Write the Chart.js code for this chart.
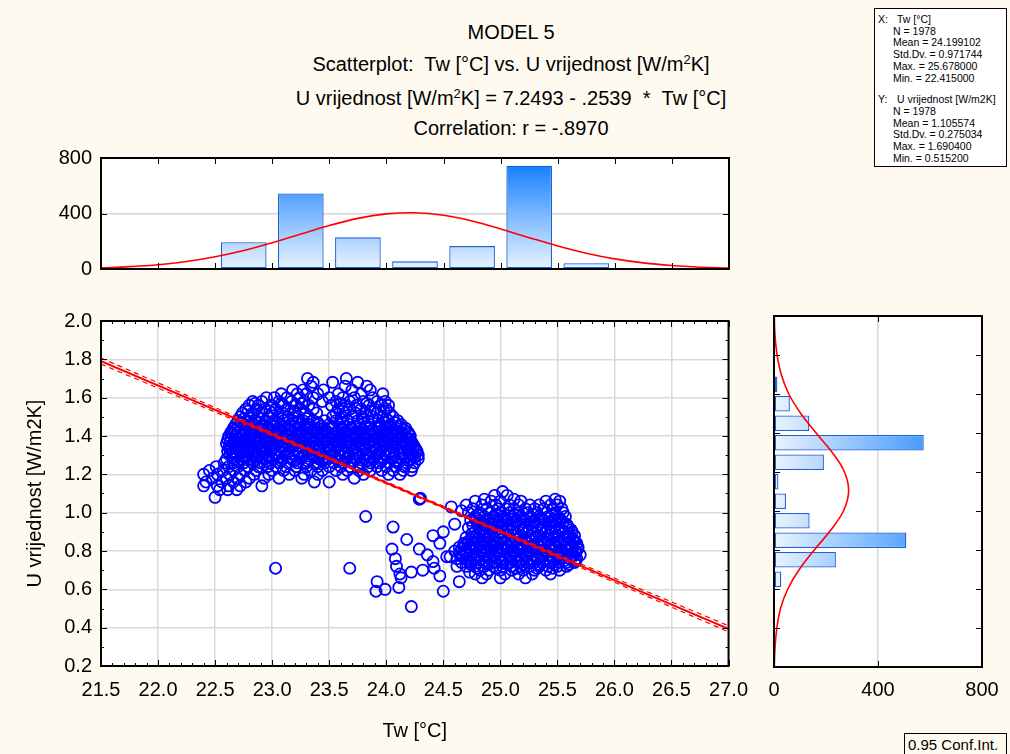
<!DOCTYPE html>
<html>
<head>
<meta charset="utf-8">
<script src="https://cdn.jsdelivr.net/npm/chart.js@4.4.1/dist/chart.umd.min.js"></script>
<style>
  html, body { margin: 0; padding: 0; }
  body {
    width: 1010px; height: 754px; position: relative; overflow: hidden;
    background: #FEFAF0; color: #000;
    font-family: "Liberation Sans", Arial, sans-serif;
  }
  canvas { position: absolute; }
  .t { position: absolute; left: 211px; width: 600px; text-align: center; font-size: 20px; line-height: 24px; white-space: nowrap; }
  sup { font-size: 13px; line-height: 0; vertical-align: 7px; }
  .stats {
    position: absolute; left: 874px; top: 8px; width: 133px; height: 159px;
    box-sizing: border-box; border: 1px solid #000; background: #fff;
    font-size: 10.5px; line-height: 11.7px; padding-top: 5px; white-space: nowrap;
  }
  .stats .k { display: inline-block; width: 19px; padding-left: 3px; }
  .stats .in { padding-left: 18px; }
  .stats .gap { margin-top: 10px; }
  .ci {
    position: absolute; left: 904px; top: 733px; width: 103px; height: 23px;
    box-sizing: border-box; border: 1px solid #000; font-size: 15px; line-height: 21px; padding-left: 3px;
  }
</style>
</head>
<body>
<div class="t" style="top:20px">MODEL 5</div>
<div class="t" style="top:52px">Scatterplot:&nbsp; Tw [°C] vs. U vrijednost [W/m<sup>2</sup>K]</div>
<div class="t" style="top:86px">U vrijednost [W/m<sup>2</sup>K] = 7.2493 - .2539 &nbsp;* &nbsp;Tw [°C]</div>
<div class="t" style="top:116px">Correlation: r = -.8970</div>

<div class="stats">
  <div><span class="k">X:</span>Tw [°C]</div>
  <div class="in">N = 1978</div>
  <div class="in">Mean = 24.199102</div>
  <div class="in">Std.Dv. = 0.971744</div>
  <div class="in">Max. = 25.678000</div>
  <div class="in">Min. = 22.415000</div>
  <div class="gap"><span class="k">Y:</span>U vrijednost [W/m2K]</div>
  <div class="in">N = 1978</div>
  <div class="in">Mean = 1.105574</div>
  <div class="in">Std.Dv. = 0.275034</div>
  <div class="in">Max. = 1.690400</div>
  <div class="in">Min. = 0.515200</div>
</div>
<div class="ci">0.95 Conf.Int.</div>

<canvas id="topHist" width="760" height="160" style="left:0;top:130px"></canvas>
<canvas id="scatter" width="760" height="454" style="left:0;top:300px"></canvas>
<canvas id="sideHist" width="265" height="454" style="left:745px;top:300px"></canvas>

<script>
// histogram of Tw (top)
const twBins = [22.75, 23.25, 23.75, 24.25, 24.75, 25.25, 25.75];
const twCounts = [193, 545, 228, 55, 165, 745, 41];
// fitted normal curve over the Tw histogram
const twCurveX = [21.5, 21.75, 22.0, 22.25, 22.5, 22.75, 23.0, 23.25, 23.5, 23.75, 24.0, 24.25,
                  24.5, 24.75, 25.0, 25.25, 25.5, 25.75, 26.0, 26.25, 26.5, 26.75, 27.0];
const twCurveN = [8, 17, 31, 54, 88, 133, 189, 252, 313, 365, 397, 405,
                  387, 346, 289, 226, 166, 114, 73, 44, 25, 13, 6];

// histogram of U (right)
const uBins = [1.65, 1.55, 1.45, 1.35, 1.25, 1.15, 1.05, 0.95, 0.85, 0.75, 0.65, 0.55];
const uCounts = [13, 61, 136, 576, 192, 17, 46, 137, 509, 238, 28, 2];
const uCurveY = [0.2, 0.3, 0.4, 0.5, 0.6, 0.7, 0.8, 0.9, 1.0, 1.1, 1.2, 1.3, 1.4, 1.5, 1.6, 1.7, 1.8, 1.9, 2.0];
const uCurveN = [1, 4, 11, 25, 53, 97, 155, 217, 267, 287, 271, 224, 162, 103, 57, 28, 12, 4, 1];

// regression line and 0.95 confidence band
const fitTw = [21.5, 27.0];
const fitU = [1.7905, 0.3940];
const ciTw = [21.5, 22.5, 23.5, 24.2, 25.0, 26.0, 27.0];
const ciUpper = [1.807, 1.548, 1.290, 1.110, 0.909, 0.659, 0.410];
const ciLower = [1.775, 1.525, 1.276, 1.100, 0.895, 0.637, 0.378];

const cluster1 = [
  [1.70, [23.31, 23.65]],
  [1.68, [23.36, 23.53, 23.75]],
  [1.66, [23.34, 23.64, 23.83]],
  [1.64, [23.18, 23.27, 23.45, 23.70, 23.86]],
  [1.62, [23.08, 23.22, 23.30, 23.40, 23.58, 23.78, 23.97]],
  [1.60, [22.95, 23.02, 23.13, 23.24, 23.36, 23.50, 23.62, 23.72, 23.88]],
  [1.58, [22.83, 22.91, 23.06, 23.17, 23.28, 23.44, 23.56, 23.68, 23.80, 23.92, 23.99]],
  [1.57, [22.85, 23.08, 23.26, 23.60, 23.83]],
  [1.56, [22.80, 22.88, 22.99, 23.10, 23.21, 23.32, 23.52, 23.63, 23.74, 23.85, 23.96, 24.02]],
  [1.54, [22.77, 22.86, 22.94, 23.03, 23.14, 23.25, 23.36, 23.58, 23.68, 23.78, 23.90, 24.00]],
  [1.53, [22.79, 22.98, 23.20, 23.62, 23.86, 23.98]],
  [1.52, [22.74, 22.83, 22.91, 23.00, 23.09, 23.19, 23.29, 23.39, 23.56, 23.64, 23.73, 23.82, 23.92, 24.03]],
  [1.50, [22.72, 22.80, 22.88, 22.97, 23.05, 23.14, 23.23, 23.32, 23.53, 23.61, 23.70, 23.79, 23.88, 23.97, 24.06]],
  [1.49, [22.75, 22.91, 23.09, 23.30, 23.60, 23.80, 24.00]],
  [1.48, [22.70, 22.78, 22.86, 22.94, 23.02, 23.10, 23.18, 23.27, 23.36, 23.46, 23.56, 23.66, 23.75, 23.84, 23.93, 24.02, 24.10]],
  [1.47, [22.73, 22.89, 23.05, 23.21, 23.40, 23.62, 23.81, 23.99, 24.08]],
  [1.46, [22.68, 22.76, 22.84, 22.92, 23.00, 23.08, 23.16, 23.24, 23.32, 23.41, 23.50, 23.59, 23.68, 23.77, 23.86, 23.95, 24.04, 24.13]],
  [1.45, [22.70, 22.79, 22.90, 23.01, 23.11, 23.20, 23.31, 23.43, 23.52, 23.63, 23.72, 23.83, 23.94, 24.03, 24.12]],
  [1.44, [22.66, 22.73, 22.81, 22.89, 22.97, 23.05, 23.13, 23.21, 23.29, 23.37, 23.45, 23.53, 23.61, 23.69, 23.77, 23.85, 23.93, 24.01, 24.09, 24.17]],
  [1.43, [22.67, 22.76, 22.86, 22.95, 23.06, 23.16, 23.26, 23.35, 23.47, 23.58, 23.67, 23.79, 23.88, 23.99, 24.08, 24.16]],
  [1.42, [22.64, 22.70, 22.77, 22.85, 22.93, 23.01, 23.09, 23.17, 23.25, 23.33, 23.41, 23.49, 23.57, 23.65, 23.73, 23.81, 23.89, 23.97, 24.05, 24.13, 24.19]],
  [1.41, [22.65, 22.73, 22.83, 22.92, 23.03, 23.12, 23.23, 23.31, 23.43, 23.54, 23.63, 23.74, 23.84, 23.95, 24.04, 24.14, 24.20]],
  [1.40, [22.62, 22.68, 22.74, 22.81, 22.89, 22.97, 23.05, 23.13, 23.21, 23.29, 23.37, 23.45, 23.53, 23.61, 23.69, 23.77, 23.85, 23.93, 24.01, 24.09, 24.17, 24.21]],
  [1.39, [22.64, 22.71, 22.80, 22.90, 22.99, 23.10, 23.19, 23.29, 23.39, 23.50, 23.59, 23.70, 23.80, 23.91, 24.00, 24.10, 24.19]],
  [1.38, [22.61, 22.67, 22.72, 22.78, 22.85, 22.93, 23.01, 23.09, 23.17, 23.25, 23.33, 23.41, 23.49, 23.57, 23.65, 23.73, 23.81, 23.89, 23.97, 24.05, 24.13, 24.21]],
  [1.37, [22.63, 22.69, 22.79, 22.88, 22.98, 23.07, 23.17, 23.27, 23.36, 23.47, 23.56, 23.67, 23.76, 23.87, 23.97, 24.07, 24.16, 24.22]],
  [1.36, [22.60, 22.66, 22.71, 22.76, 22.82, 22.89, 22.97, 23.05, 23.13, 23.21, 23.29, 23.37, 23.45, 23.53, 23.61, 23.69, 23.77, 23.85, 23.93, 24.01, 24.09, 24.17, 24.23]],
  [1.35, [22.64, 22.71, 22.80, 22.90, 22.99, 23.09, 23.19, 23.29, 23.39, 23.49, 23.59, 23.69, 23.79, 23.89, 23.99, 24.08, 24.18, 24.24]],
  [1.34, [22.62, 22.68, 22.74, 22.80, 22.86, 22.93, 23.01, 23.09, 23.17, 23.25, 23.33, 23.41, 23.49, 23.57, 23.65, 23.73, 23.81, 23.89, 23.97, 24.05, 24.13, 24.21, 24.25]],
  [1.33, [22.63, 22.70, 22.81, 22.89, 23.00, 23.11, 23.21, 23.30, 23.41, 23.51, 23.61, 23.70, 23.81, 23.91, 24.01, 24.10, 24.20, 24.26]],
  [1.32, [22.61, 22.66, 22.72, 22.78, 22.85, 22.92, 22.99, 23.07, 23.15, 23.23, 23.31, 23.39, 23.47, 23.55, 23.63, 23.71, 23.79, 23.87, 23.95, 24.03, 24.11, 24.19, 24.27]],
  [1.31, [22.65, 22.73, 22.83, 22.93, 23.03, 23.13, 23.23, 23.33, 23.43, 23.53, 23.63, 23.73, 23.83, 23.93, 24.03, 24.12, 24.22]],
  [1.30, [22.63, 22.69, 22.75, 22.82, 22.89, 22.96, 23.03, 23.11, 23.19, 23.27, 23.35, 23.43, 23.51, 23.59, 23.67, 23.75, 23.83, 23.91, 23.99, 24.07, 24.15, 24.23, 24.28]],
  [1.29, [22.66, 22.77, 22.86, 22.97, 23.06, 23.15, 23.26, 23.37, 23.46, 23.55, 23.66, 23.76, 23.86, 23.95, 24.06, 24.16, 24.25]],
  [1.28, [22.60, 22.67, 22.73, 22.80, 22.87, 22.94, 23.01, 23.09, 23.17, 23.25, 23.33, 23.41, 23.49, 23.57, 23.65, 23.73, 23.81, 23.89, 23.97, 24.05, 24.13, 24.21, 24.28]],
  [1.27, [22.70, 22.84, 22.95, 23.08, 23.19, 23.31, 23.44, 23.58, 23.71, 23.83, 23.96, 24.08, 24.20]],
  [1.26, [22.58, 22.66, 22.75, 22.83, 22.90, 22.98, 23.06, 23.14, 23.22, 23.30, 23.38, 23.46, 23.54, 23.62, 23.70, 23.78, 23.86, 23.94, 24.02, 24.10, 24.18, 24.25]],
  [1.24, [22.51, 22.62, 22.70, 22.79, 22.88, 22.96, 23.04, 23.12, 23.21, 23.30, 23.40, 23.50, 23.60, 23.68, 23.76, 23.84, 23.92, 24.00, 24.08, 24.16, 24.23]],
  [1.22, [22.45, 22.57, 22.66, 22.76, 22.86, 23.00, 23.10, 23.20, 23.34, 23.44, 23.56, 23.66, 23.76, 23.86, 23.96, 24.06, 24.15, 24.22]],
  [1.20, [22.40, 22.52, 22.63, 22.72, 22.84, 22.97, 23.15, 23.28, 23.40, 23.62, 23.80, 24.02, 24.12]],
  [1.18, [22.48, 22.60, 22.70, 22.80, 22.93, 23.06, 23.26, 23.72]],
  [1.16, [22.42, 22.56, 22.66, 22.77, 23.37, 23.50]],
  [1.14, [22.40, 22.52, 22.62, 22.72, 22.91]],
  [1.12, [22.54, 22.61, 22.69]],
  [1.08, [22.50]]
];

const cluster2 = [
  [1.11, [25.02]],
  [1.09, [24.95, 25.06]],
  [1.07, [24.86, 25.12, 25.48]],
  [1.06, [24.78, 24.92, 25.00, 25.18, 25.40, 25.52]],
  [1.04, [24.70, 24.84, 24.96, 25.08, 25.16, 25.26, 25.34, 25.44, 25.50]],
  [1.02, [24.76, 24.88, 24.98, 25.05, 25.12, 25.22, 25.30, 25.38, 25.46, 25.54]],
  [1.00, [24.72, 24.82, 24.92, 25.00, 25.08, 25.16, 25.24, 25.32, 25.40, 25.48, 25.55]],
  [0.99, [24.81, 24.97, 25.13, 25.29, 25.45]],
  [0.98, [24.78, 24.86, 24.94, 25.02, 25.10, 25.18, 25.26, 25.34, 25.42, 25.50, 25.57]],
  [0.97, [24.78, 24.90, 25.04, 25.20, 25.36, 25.52]],
  [0.96, [24.74, 24.82, 24.90, 24.98, 25.06, 25.14, 25.22, 25.30, 25.38, 25.46, 25.53]],
  [0.95, [24.84, 24.98, 25.14, 25.30, 25.46, 25.55]],
  [0.94, [24.80, 24.87, 24.94, 25.02, 25.10, 25.18, 25.26, 25.34, 25.42, 25.50, 25.58]],
  [0.93, [24.76, 24.88, 25.01, 25.16, 25.32, 25.48, 25.59]],
  [0.92, [24.72, 24.84, 24.91, 24.98, 25.05, 25.12, 25.20, 25.28, 25.36, 25.44, 25.52, 25.60]],
  [0.91, [24.82, 24.92, 25.06, 25.20, 25.36, 25.52, 25.62]],
  [0.90, [24.78, 24.88, 24.95, 25.02, 25.09, 25.16, 25.24, 25.32, 25.40, 25.48, 25.56, 25.63]],
  [0.89, [24.75, 24.86, 24.99, 25.13, 25.29, 25.45, 25.60]],
  [0.88, [24.82, 24.90, 24.97, 25.04, 25.11, 25.18, 25.26, 25.34, 25.42, 25.50, 25.58, 25.65]],
  [0.87, [24.78, 24.90, 25.03, 25.17, 25.31, 25.47, 25.61]],
  [0.86, [24.74, 24.80, 24.86, 24.93, 25.00, 25.07, 25.14, 25.21, 25.28, 25.35, 25.42, 25.49, 25.56, 25.64]],
  [0.85, [24.72, 24.85, 24.96, 25.09, 25.23, 25.37, 25.51, 25.65]],
  [0.84, [24.68, 24.76, 24.83, 24.90, 24.97, 25.04, 25.11, 25.18, 25.25, 25.32, 25.39, 25.46, 25.53, 25.60, 25.67]],
  [0.83, [24.69, 24.82, 24.94, 25.07, 25.20, 25.34, 25.48, 25.62]],
  [0.82, [24.64, 24.72, 24.79, 24.86, 24.93, 25.00, 25.07, 25.14, 25.21, 25.28, 25.35, 25.42, 25.49, 25.56, 25.63, 25.68]],
  [0.81, [24.66, 24.79, 24.91, 25.05, 25.18, 25.32, 25.46, 25.60, 25.68]],
  [0.80, [24.60, 24.68, 24.75, 24.82, 24.89, 24.96, 25.03, 25.10, 25.17, 25.24, 25.31, 25.38, 25.45, 25.52, 25.59, 25.66]],
  [0.79, [24.70, 24.84, 24.97, 25.12, 25.26, 25.40, 25.54, 25.66]],
  [0.78, [24.66, 24.73, 24.80, 24.87, 24.94, 25.01, 25.08, 25.15, 25.22, 25.29, 25.36, 25.43, 25.50, 25.57, 25.64, 25.70]],
  [0.77, [24.67, 24.80, 24.94, 25.08, 25.22, 25.36, 25.50, 25.63]],
  [0.76, [24.62, 24.70, 24.77, 24.84, 24.91, 24.98, 25.05, 25.12, 25.19, 25.26, 25.33, 25.40, 25.47, 25.54, 25.61, 25.67]],
  [0.75, [24.72, 24.86, 25.00, 25.14, 25.28, 25.42, 25.56, 25.66]],
  [0.74, [24.66, 24.74, 24.81, 24.88, 24.95, 25.02, 25.09, 25.16, 25.23, 25.30, 25.37, 25.44, 25.51, 25.58, 25.65]],
  [0.73, [24.74, 24.90, 25.06, 25.20, 25.34, 25.48, 25.60]],
  [0.72, [24.70, 24.78, 24.86, 24.94, 25.02, 25.10, 25.18, 25.26, 25.34, 25.42, 25.50, 25.58]],
  [0.71, [24.80, 24.96, 25.14, 25.32, 25.46]],
  [0.70, [24.82, 24.90, 25.00, 25.10, 25.20, 25.30, 25.40, 25.52]],
  [0.68, [24.78, 24.88, 25.04, 25.16, 25.28, 25.44]],
  [0.66, [24.84, 25.00, 25.22]]
];

// scattered points between and around the two groups: [Tw, U]
const outliers = [
  [23.03, 0.71], [23.68, 0.71], [23.82, 0.98], [24.06, 0.925], [24.18, 0.86], [24.29, 0.81],
  [24.05, 0.81], [24.08, 0.76], [24.09, 0.72], [24.12, 0.68], [24.13, 0.66], [23.92, 0.64],
  [23.91, 0.59], [23.99, 0.60], [24.11, 0.61], [24.22, 0.69], [24.32, 0.70], [24.41, 0.745],
  [24.42, 0.71], [24.47, 0.67], [24.50, 0.59], [24.22, 0.51], [24.53, 0.77], [24.29, 1.07],
  [24.30, 1.075], [24.41, 0.88], [24.50, 0.90], [24.47, 0.84], [24.64, 0.64], [24.36, 0.78],
  [24.60, 0.94], [24.57, 1.03], [24.66, 1.01], [24.70, 0.87], [24.73, 0.81], [24.56, 0.77],
  [24.64, 0.79], [24.73, 0.69], [24.62, 0.72]
];

const FONT = '"Liberation Sans", Arial, sans-serif';
Chart.defaults.font.family = FONT;
Chart.defaults.font.size = 20;
Chart.defaults.color = '#000';
Chart.defaults.animation = false;

function rowsToPoints(rows) {
  const pts = [];
  rows.forEach(([u, tws]) => tws.forEach(tw => pts.push({ x: tw, y: u })));
  return pts;
}
const zip = (xs, ys) => xs.map((x, i) => ({ x: x, y: ys[i] }));

// white plot area, black frame and inward tick marks
const framePlugin = {
  id: 'frame',
  beforeDraw(chart) {
    const { ctx, chartArea: a } = chart;
    ctx.save();
    ctx.fillStyle = '#fff';
    ctx.fillRect(a.left, a.top, a.width, a.height);
    ctx.restore();
  },
  afterDraw(chart, args, opts) {
    const { ctx, chartArea: a } = chart;
    const xs = chart.scales.x, ys = chart.scales.y;
    ctx.save();
    ctx.strokeStyle = '#000';
    ctx.lineWidth = 1;
    const marks = (scale, step, len, horiz) => {
      if (!step) return;
      const n = Math.round((scale.max - scale.min) / step);
      for (let i = 0; i <= n; i++) {
        const p = Math.round(scale.getPixelForValue(scale.min + i * step)) + 0.5;
        ctx.beginPath();
        if (horiz) {
          ctx.moveTo(p, a.bottom); ctx.lineTo(p, a.bottom - len);
          ctx.moveTo(p, a.top); ctx.lineTo(p, a.top + len);
        } else {
          ctx.moveTo(a.left, p); ctx.lineTo(a.left + len, p);
          ctx.moveTo(a.right, p); ctx.lineTo(a.right - len, p);
        }
        ctx.stroke();
      }
    };
    marks(xs, opts.xMajor, 6, true);
    marks(xs, opts.xMinor, 3, true);
    marks(ys, opts.yMajor, 6, false);
    marks(ys, opts.yMinor, 3, false);
    ctx.lineWidth = 2;
    ctx.strokeRect(a.left, a.top, a.width, a.height);
    ctx.restore();
  }
};

function barGradient(vertical) {
  return (c) => {
    const a = c.chart.chartArea;
    if (!a) return '#9cc9ff';
    const g = vertical
      ? c.chart.ctx.createLinearGradient(0, a.bottom, 0, a.top)
      : c.chart.ctx.createLinearGradient(a.left, 0, a.right, 0);
    g.addColorStop(0, '#EAF4FF');
    g.addColorStop(1, '#0878FF');
    return g;
  };
}

const only400 = (c) => (c.tick && c.tick.value === 400 ? '#D6D6D6' : 'rgba(0,0,0,0)');
const noPlugins = { legend: { display: false }, tooltip: { enabled: false } };

// top histogram
new Chart(document.getElementById('topHist'), {
  type: 'bar',
  data: {
    datasets: [
      {
        type: 'line', data: zip(twCurveX, twCurveN), borderColor: '#FF0000', borderWidth: 1.6,
        pointRadius: 0, tension: 0.4, fill: false, order: 0
      },
      {
        data: zip(twBins, twCounts), backgroundColor: barGradient(true), borderColor: '#1F5FD6',
        borderWidth: 1.3, borderSkipped: false, barPercentage: 0.8, categoryPercentage: 1, order: 1
      }
    ]
  },
  options: {
    responsive: false,
    layout: { padding: { top: 28, right: 31, left: 0, bottom: 0 } },
    scales: {
      x: {
        type: 'linear', min: 21.5, max: 27, offset: false,
        ticks: { display: false, stepSize: 0.5 },
        grid: { display: false, offset: false }, border: { display: false },
        afterFit: s => { s.height = 16; }
      },
      y: {
        min: 0, max: 800,
        ticks: { stepSize: 400, padding: 9 },
        grid: { color: only400, lineWidth: 1.5, drawTicks: false }, border: { display: false },
        afterFit: s => { s.width = 101; }
      }
    },
    plugins: { ...noPlugins, frame: { xMajor: 0.5, yMajor: 400 } }
  },
  plugins: [framePlugin]
});

// main scatterplot
const pointStyle = {
  type: 'scatter', showLine: false, pointRadius: 5.6, pointBorderWidth: 1.8,
  pointBorderColor: '#0000FF', pointBackgroundColor: 'rgba(0,0,0,0)', order: 2
};
new Chart(document.getElementById('scatter'), {
  type: 'scatter',
  data: {
    datasets: [
      { type: 'line', data: zip(fitTw, fitU), borderColor: '#FF0000', borderWidth: 2, pointRadius: 0, order: 0 },
      { type: 'line', data: zip(ciTw, ciUpper), borderColor: '#FF0000', borderWidth: 1.2, borderDash: [5, 4], pointRadius: 0, order: 0 },
      { type: 'line', data: zip(ciTw, ciLower), borderColor: '#FF0000', borderWidth: 1.2, borderDash: [5, 4], pointRadius: 0, order: 0 },
      { ...pointStyle, data: rowsToPoints(cluster1) },
      { ...pointStyle, data: rowsToPoints(cluster2) },
      { ...pointStyle, data: outliers.map(([x, y]) => ({ x: x, y: y })) }
    ]
  },
  options: {
    responsive: false,
    layout: { padding: { top: 16, right: 31, left: 0, bottom: 0 } },
    scales: {
      x: {
        type: 'linear', min: 21.5, max: 27,
        ticks: { stepSize: 0.5, padding: 12, maxRotation: 0, autoSkip: false, callback: v => v.toFixed(1) },
        grid: { color: '#D9D9D9', lineWidth: 1.5, drawTicks: false }, border: { display: false },
        title: { display: true, text: 'Tw [°C]', font: { size: 20 }, padding: { top: 0, bottom: 11 } },
        afterFit: s => { s.height = 88; }
      },
      y: {
        type: 'linear', min: 0.2, max: 2.0,
        ticks: { stepSize: 0.2, padding: 9, autoSkip: false, callback: v => v.toFixed(1) },
        grid: { color: '#D9D9D9', lineWidth: 1.5, drawTicks: false }, border: { display: false },
        title: { display: true, text: 'U vrijednost [W/m2K]', font: { size: 20 }, padding: { top: 23, bottom: 0 } },
        afterFit: s => { s.width = 101; }
      }
    },
    plugins: { ...noPlugins, frame: { xMajor: 0.5, xMinor: 0.1, yMajor: 0.2, yMinor: 0.1 } }
  },
  plugins: [framePlugin]
});

// right histogram
new Chart(document.getElementById('sideHist'), {
  type: 'bar',
  data: {
    datasets: [
      {
        type: 'line', data: zip(uCurveN, uCurveY), borderColor: '#FF0000', borderWidth: 1.6,
        pointRadius: 0, tension: 0.4, fill: false, order: 0
      },
      {
        data: zip(uCounts, uBins), backgroundColor: barGradient(false), borderColor: '#1F5FD6',
        borderWidth: 1.3, borderSkipped: false, barPercentage: 0.8, categoryPercentage: 1, order: 1
      }
    ]
  },
  options: {
    responsive: false,
    indexAxis: 'y',
    layout: { padding: { top: 16, right: 28, left: 0, bottom: 0 } },
    scales: {
      x: {
        type: 'linear', min: 0, max: 800,
        ticks: { stepSize: 400, padding: 11, maxRotation: 0 },
        grid: { color: only400, lineWidth: 1.5, drawTicks: false }, border: { display: false },
        afterFit: s => { s.height = 87; }
      },
      y: {
        type: 'linear', min: 0.2, max: 2.0, offset: false,
        ticks: { display: false, stepSize: 0.2 },
        grid: { display: false, offset: false }, border: { display: false },
        afterFit: s => { s.width = 29; }
      }
    },
    plugins: { ...noPlugins, frame: { xMajor: 400, yMajor: 0.2 } }
  },
  plugins: [framePlugin]
});
</script>
</body>
</html>
